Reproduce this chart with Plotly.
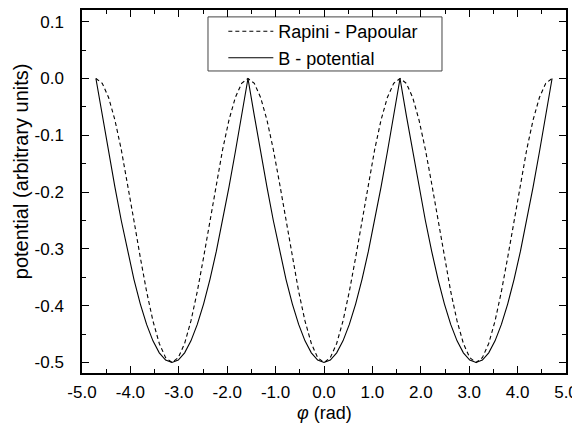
import plotly.graph_objects as go

# phi sampled every pi/24 from -3pi/2 to 3pi/2
phi = [-4.7124, -4.5815, -4.4506, -4.3197, -4.1888, -4.0579, -3.9270, -3.7961, -3.6652, -3.5343,
       -3.4034, -3.2725, -3.1416, -3.0107, -2.8798, -2.7489, -2.6180, -2.4871, -2.3562, -2.2253,
       -2.0944, -1.9635, -1.8326, -1.7017, -1.5708, -1.4399, -1.3090, -1.1781, -1.0472, -0.9163,
       -0.7854, -0.6545, -0.5236, -0.3927, -0.2618, -0.1309, 0.0, 0.1309, 0.2618, 0.3927,
       0.5236, 0.6545, 0.7854, 0.9163, 1.0472, 1.1781, 1.3090, 1.4399, 1.5708, 1.7017,
       1.8326, 1.9635, 2.0944, 2.2253, 2.3562, 2.4871, 2.6180, 2.7489, 2.8798, 3.0107,
       3.1416, 3.2725, 3.4034, 3.5343, 3.6652, 3.7961, 3.9270, 4.0579, 4.1888, 4.3197,
       4.4506, 4.5815, 4.7124]

rapini = [0.0, -0.0085, -0.0335, -0.0732, -0.125, -0.1853, -0.25, -0.3147, -0.375, -0.4268, -0.4665, -0.4915, -0.5,
          -0.4915, -0.4665, -0.4268, -0.375, -0.3147, -0.25, -0.1853, -0.125, -0.0732, -0.0335, -0.0085, 0.0,
          -0.0085, -0.0335, -0.0732, -0.125, -0.1853, -0.25, -0.3147, -0.375, -0.4268, -0.4665, -0.4915, -0.5,
          -0.4915, -0.4665, -0.4268, -0.375, -0.3147, -0.25, -0.1853, -0.125, -0.0732, -0.0335, -0.0085, 0.0,
          -0.0085, -0.0335, -0.0732, -0.125, -0.1853, -0.25, -0.3147, -0.375, -0.4268, -0.4665, -0.4915, -0.5,
          -0.4915, -0.4665, -0.4268, -0.375, -0.3147, -0.25, -0.1853, -0.125, -0.0732, -0.0335, -0.0085, 0.0]

bpot = [0.0, -0.0653, -0.1294, -0.1913, -0.25, -0.3044, -0.3536, -0.3967, -0.4330, -0.4619, -0.4830, -0.4957, -0.5,
        -0.4957, -0.4830, -0.4619, -0.4330, -0.3967, -0.3536, -0.3044, -0.25, -0.1913, -0.1294, -0.0653, 0.0,
        -0.0653, -0.1294, -0.1913, -0.25, -0.3044, -0.3536, -0.3967, -0.4330, -0.4619, -0.4830, -0.4957, -0.5,
        -0.4957, -0.4830, -0.4619, -0.4330, -0.3967, -0.3536, -0.3044, -0.25, -0.1913, -0.1294, -0.0653, 0.0,
        -0.0653, -0.1294, -0.1913, -0.25, -0.3044, -0.3536, -0.3967, -0.4330, -0.4619, -0.4830, -0.4957, -0.5,
        -0.4957, -0.4830, -0.4619, -0.4330, -0.3967, -0.3536, -0.3044, -0.25, -0.1913, -0.1294, -0.0653, 0.0]

series_names = ["Rapini - Papoular", "B - potential"]
x_ticks = [-5, -4, -3, -2, -1, 0, 1, 2, 3, 4, 5]
x_labels = ["-5.0", "-4.0", "-3.0", "-2.0", "-1.0", "0.0", "1.0", "2.0", "3.0", "4.0", "5.0"]
y_ticks = [-0.5, -0.4, -0.3, -0.2, -0.1, 0.0, 0.1]
y_labels = ["-0.5", "-0.4", "-0.3", "-0.2", "-0.1", "0.0", "0.1"]

FONT = "Liberation Sans, Arial, Helvetica, sans-serif"

fig = go.Figure()
fig.add_trace(go.Scatter(x=phi, y=rapini, mode="lines", name=series_names[0],
                         line=dict(color="black", width=1.1, dash="4px,3px")))
fig.add_trace(go.Scatter(x=phi, y=bpot, mode="lines", name=series_names[1],
                         line=dict(color="black", width=1.1)))

axis_common = dict(
    showline=True, linecolor="black", linewidth=1.5, mirror="allticks",
    ticks="inside", ticklen=7, tickwidth=1.3, tickcolor="black",
    showgrid=False, zeroline=False, automargin=False,
    tickfont=dict(family=FONT, size=17, color="black"),
)

fig.update_xaxes(range=[-5, 5], tickvals=x_ticks, ticktext=x_labels, ticklabelstandoff=3,
                 minor=dict(ticks="inside", dtick=0.5, ticklen=4, tickwidth=1.3, tickcolor="black"),
                 **axis_common)
fig.update_yaxes(range=[-0.5185, 0.1206], tickvals=y_ticks, ticktext=y_labels, ticklabelstandoff=13,
                 minor=dict(ticks="inside", dtick=0.05, tick0=0, ticklen=4, tickwidth=1.3, tickcolor="black"),
                 **axis_common)

fig.add_annotation(text="<i>φ</i> (rad)", xref="paper", yref="paper", x=0.5, y=-0.109,
                   xanchor="center", yanchor="middle", showarrow=False,
                   font=dict(family=FONT, size=18, color="black"))
fig.add_annotation(text="potential (arbitrary units)", xref="paper", yref="paper", x=-0.126, y=0.556,
                   xanchor="center", yanchor="middle", showarrow=False, textangle=-90,
                   font=dict(family=FONT, size=20, color="black"))

# legend frame
fig.add_shape(type="rect", xref="paper", yref="paper", x0=0.2603, x1=0.7438, y0=0.832, y1=0.981,
              line=dict(color="#444444", width=1), fillcolor="white", layer="below")

# page body has an 8px margin: shrink the figure so the plot area lands where the reference has it
fig.update_layout(
    width=572, height=422,
    margin=dict(l=74, r=14, t=2, b=57),
    plot_bgcolor="white", paper_bgcolor="white",
    showlegend=True,
    legend=dict(x=0.292, y=0.9915, xanchor="left", yanchor="top",
                borderwidth=0, bgcolor="rgba(0,0,0,0)",
                font=dict(family=FONT, size=18, color="black"),
                tracegroupgap=0, itemwidth=45),
    font=dict(family=FONT, color="black"),
)

fig.write_html("out.html")
